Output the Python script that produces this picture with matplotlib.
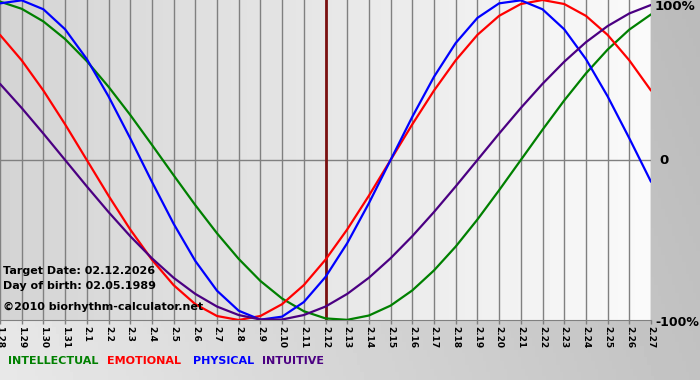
import numpy as np
import matplotlib
matplotlib.use("Agg")
import matplotlib.pyplot as plt

# day labels, 28 Jan .. 27 Feb (month.day)
days = ['1.28', '1.29', '1.30', '1.31'] + ['2.%d' % d for d in range(1, 28)]
target_idx = 15  # 2.12

# values, one per day, -1..1
intellectual = [0.990, 0.945, 0.866, 0.756, 0.618, 0.458, 0.282, 0.095, -0.095, -0.282,
                -0.458, -0.618, -0.756, -0.866, -0.945, -0.990, -0.999, -0.972, -0.910, -0.815,
                -0.690, -0.541, -0.372, -0.189, 0.0, 0.189, 0.372, 0.541, 0.690, 0.815, 0.910]
emotional = [0.782, 0.623, 0.434, 0.223, 0.0, -0.223, -0.434, -0.623, -0.782, -0.901,
             -0.975, -1.0, -0.975, -0.901, -0.782, -0.623, -0.434, -0.223, 0.0, 0.223,
             0.434, 0.623, 0.782, 0.901, 0.975, 1.0, 0.975, 0.901, 0.782, 0.623, 0.434]
physical = [0.979, 0.998, 0.942, 0.817, 0.631, 0.398, 0.136, -0.136, -0.398, -0.631,
            -0.817, -0.942, -0.998, -0.979, -0.888, -0.731, -0.520, -0.270, 0.0, 0.270,
            0.520, 0.731, 0.888, 0.979, 0.998, 0.942, 0.817, 0.631, 0.398, 0.136, -0.136]
intuitive = [0.476, 0.325, 0.165, 0.0, -0.165, -0.325, -0.476, -0.614, -0.736, -0.837,
             -0.916, -0.969, -0.997, -0.997, -0.969, -0.916, -0.837, -0.736, -0.614, -0.476,
             -0.325, -0.165, 0.0, 0.165, 0.325, 0.476, 0.614, 0.736, 0.837, 0.916, 0.969]

series = [('INTELLECTUAL', intellectual, '#008000'),
          ('EMOTIONAL', emotional, '#ff0000'),
          ('PHYSICAL', physical, '#0000ff'),
          ('INTUITIVE', intuitive, '#4b0082')]

fig = plt.figure(figsize=(7, 3.8), dpi=100)

# figure background gradient
bg = fig.add_axes([0, 0, 1, 1], zorder=-10)
gx = np.linspace(0, 1, 200)
gy = np.linspace(0, 1, 100)
GX, GY = np.meshgrid(gx, gy)
bg.imshow(0.91 - 0.15 * GX - 0.03 * GY, cmap='gray', vmin=0, vmax=1,
          aspect='auto', extent=[0, 1, 0, 1], origin='lower')
bg.set_axis_off()

ax = fig.add_axes([0, 1 - 320 / 380, 651 / 700, 320 / 380])
x = np.arange(len(days))
ax.set_xlim(0, len(days) - 1)
ax.set_ylim(-1, 1)

# plot area gradient, darker at left
grad = np.linspace(0.83, 0.98, 200)[None, :]
ax.imshow(grad, cmap='gray', vmin=0, vmax=1, aspect='auto',
          extent=[0, len(days) - 1, -1, 1], zorder=0)

for xi in x:
    ax.axvline(xi, color='#808080', lw=1.0, zorder=1)
ax.axhline(0, color='#808080', lw=1.0, zorder=1)
ax.axvline(target_idx, color='#7a1010', lw=2.0, zorder=3)

for name, vals, col in series:
    ax.plot(x, vals, color=col, lw=1.6, zorder=4, solid_capstyle='round')

ax.set_xticks(x)
ax.set_xticklabels(days, rotation=270, fontsize=6.5, fontweight='bold')
ax.tick_params(axis='x', length=3, width=1, color='#808080', pad=1)
ax.set_yticks([])
for s in ax.spines.values():
    s.set_visible(False)
ax.spines['bottom'].set_visible(True)
ax.spines['bottom'].set_color('#808080')

# right side labels
fig.text(655 / 700, 1 - 6 / 380, '100%', fontsize=9.5, fontweight='bold', va='center')
fig.text(659 / 700, 1 - 161 / 380, '0', fontsize=9.5, fontweight='bold', va='center')
fig.text(655 / 700, 1 - 322 / 380, '-100%', fontsize=9, fontweight='bold', va='center')

# info text
fig.text(3 / 700, 1 - 271 / 380, 'Target Date: 02.12.2026', fontsize=8, fontweight='bold', va='center')
fig.text(3 / 700, 1 - 286 / 380, 'Day of birth: 02.05.1989', fontsize=8, fontweight='bold', va='center')
fig.text(3 / 700, 1 - 307 / 380, '\u00a92010 biorhythm-calculator.net', fontsize=8, fontweight='bold', va='center')

# legend row
lx = [8, 107, 193, 262]
for (name, vals, col), px in zip(series, lx):
    fig.text(px / 700, 1 - 361 / 380, name, color=col, fontsize=8, fontweight='bold', va='center')

fig.savefig('out.png', dpi=100)
